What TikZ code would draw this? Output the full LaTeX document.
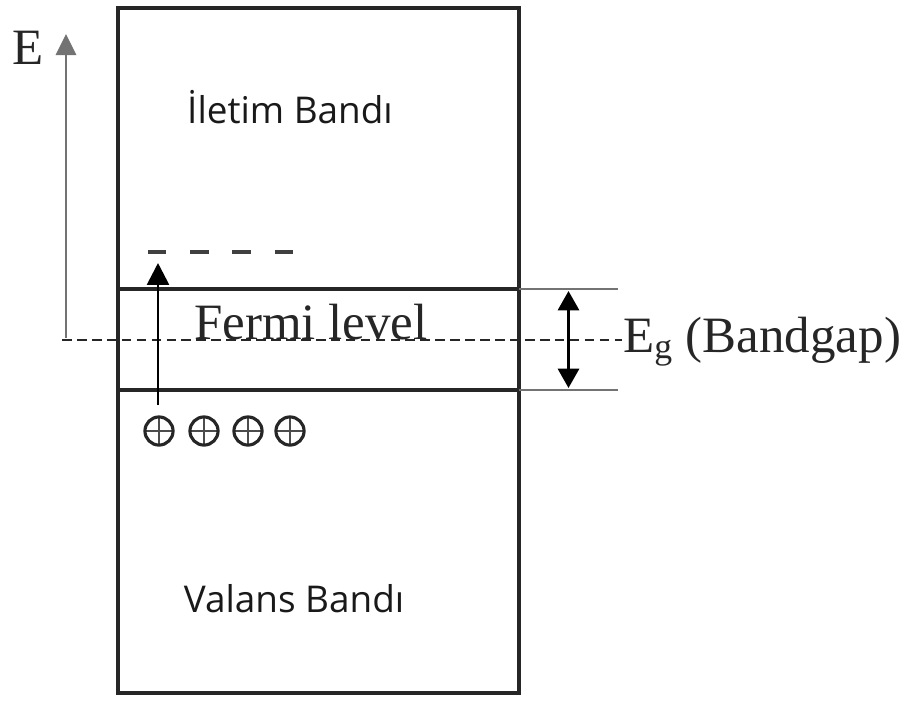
\documentclass[tikz,border=0pt]{standalone}
\usepackage{fontspec}
\setmainfont{Liberation Serif}
\newfontfamily\bandsans{Open Sans}
\usepackage{tikz}
\usetikzlibrary{arrows.meta,positioning,calc}
\tikzset{
  boxline/.style={line width=2pt, draw=black!85},
  edgeline/.style={line width=1.9pt, draw=black!85},
  extline/.style={line width=1.1pt, draw=black!55},
  axisarr/.style={-{Triangle[length=12pt, width=11.5pt]}, line width=1.4pt, draw=black!55},
  jumparr/.style={-{Triangle[length=12.5pt, width=12.5pt]}, line width=1.6pt, draw=black},
  gaparr/.style={{Triangle[length=11pt, width=12pt]}-{Triangle[length=11pt, width=12pt]}, line width=1.6pt, draw=black},
  fermiline/.style={dash pattern=on 5.5pt off 3pt, line width=1.4pt, draw=black!85},
  donorline/.style={dash pattern=on 10.5pt off 13.5pt, line width=2.3pt, draw=black!75},
  hole/.style={circle, draw=black!85, line width=1.8pt, minimum size=16pt, inner sep=0pt,
               path picture={\draw[black!70, line width=0.6pt]
                 (path picture bounding box.north) -- (path picture bounding box.south)
                 (path picture bounding box.west) -- (path picture bounding box.east);}},
  serlabel/.style={font=\fontsize{29}{31}\selectfont, text=black!85, inner sep=0pt},
  bandlabel/.style={font=\bandsans\fontsize{21}{23}\selectfont, text=black!90, inner sep=0pt},
}
\begin{document}
\begin{tikzpicture}[x=0.02cm, y=-0.02cm]
    \useasboundingbox (0,0) rectangle (901,700);
    % band box
    \draw[boxline] (118,8) rectangle (519,693);
    \coordinate (cbl) at (118,289);
    \coordinate (cbr) at (519,289);
    \coordinate (cbx) at (618,289);
    \coordinate (vbl) at (118,390);
    \coordinate (vbr) at (519,390);
    \coordinate (vbx) at (618,390);
    \draw[edgeline] (cbl) -- (cbr);
    \draw[edgeline] (vbl) -- (vbr);
    \draw[extline] (cbr) -- (cbx);
    \draw[extline] (vbr) -- (vbx);
    % energy axis
    \coordinate (ax0) at (66,338);
    \coordinate (ax1) at (66,34);
    \draw[axisarr] (ax0) -- (ax1);
    \node[serlabel] (elab) at (28,48) {E};
    % labels
    \node[bandlabel, anchor=base] (cond) at (290,123) {İletim Bandı};
    \node[bandlabel, anchor=base] (val)  at (294,612) {Valans Bandı};
    \node[serlabel, anchor=base] (fermi) at (311,339) {Fermi level};
    \node[serlabel, anchor=base west] (eg) at (623,352) {E\textsubscript{g} (Bandgap)};
    % fermi line
    \coordinate (fl0) at (62,340);
    \coordinate (fl1) at (622,340);
    \draw[fermiline] (fl0) -- (fl1);
    % donor level and excitation
    \coordinate (dl0) at (148,252);
    \coordinate (dl1) at (297,252);
    \draw[donorline] (dl0) -- (dl1);
    \coordinate (jump0) at (158,405);
    \coordinate (jump1) at (158,263);
    \draw[jumparr] (jump0) -- (jump1);
    % holes
    \foreach \hx [count=\i] in {159,204,248,290}
      \node[hole] (h\i) at (\hx,431) {};
    % gap arrow
    \draw[gaparr] ($(cbr)!0.5!(cbx)+(0,2)$) -- ($(vbr)!0.5!(vbx)+(0,-2)$);
\end{tikzpicture}
\end{document}
